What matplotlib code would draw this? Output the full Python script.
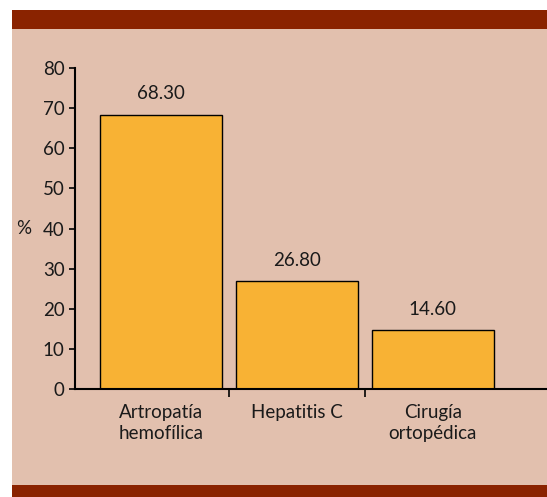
import matplotlib
matplotlib.use("Agg")
import matplotlib.pyplot as plt
from matplotlib.patches import Rectangle

# Data
categories = ["Artropatía\nhemofílica", "Hepatitis C", "Cirugía\nortopédica"]
values = [68.30, 26.80, 14.60]
value_labels = ["68.30", "26.80", "14.60"]
y_ticks = [0, 10, 20, 30, 40, 50, 60, 70, 80]

BAND = "#8A2300"
BG = "#E2C0AE"
BAR = "#F8B234"

plt.rcParams["font.family"] = ["Lato", "DejaVu Sans"]

W, H = 547, 497
fig = plt.figure(figsize=(W / 100, H / 100), dpi=100, facecolor="white")

# Panel background and the two dark bands (pixel -> figure coords)
def px_rect(x0, y0, x1, y1, color):
    fig.add_artist(Rectangle((x0 / W, 1 - y1 / H), (x1 - x0) / W, (y1 - y0) / H,
                             transform=fig.transFigure, facecolor=color,
                             edgecolor="none", zorder=0))

px_rect(12, 10, W, H, BG)
px_rect(12, 10, W, 29, BAND)
px_rect(12, 485, W, H, BAND)

# Axes: y axis at x=75px, y=0 at 389px, y=80 at 68px
ax = fig.add_axes([75 / W, 1 - 389 / H, 1 - 75 / W, (389 - 68) / H])
ax.set_facecolor("none")

xs = list(range(len(values)))
ax.bar(xs, values, width=0.9, color=BAR, edgecolor="black", linewidth=1.0, zorder=2)

for x, v, lab in zip(xs, values, value_labels):
    ax.annotate(lab, (x, v), xytext=(0, 9), textcoords="offset points",
                ha="center", va="bottom", fontsize=13.5, color="#1a1a1a")

ax.set_ylim(0, 80)
ax.set_xlim(-0.632, 2.84)
ax.set_yticks(y_ticks)
ax.tick_params(axis="y", direction="out", length=4.5, width=1.2, pad=3,
               labelsize=13.5, labelcolor="#1a1a1a")

ax.set_xticks(xs)
ax.set_xticklabels(categories, fontsize=13.5, color="#1a1a1a", linespacing=1.25)
ax.tick_params(axis="x", which="major", length=0, pad=11)
ax.set_xticks([0.5, 1.5], minor=True)
ax.tick_params(axis="x", which="minor", direction="out", length=6, width=1.2)

for side in ("top", "right"):
    ax.spines[side].set_visible(False)
for side in ("left", "bottom"):
    ax.spines[side].set_linewidth(1.5)

ax.set_ylabel("%", rotation=0, fontsize=13.5, color="#1a1a1a", labelpad=14, va="center")

fig.savefig("out.png", dpi=100, facecolor="white")
